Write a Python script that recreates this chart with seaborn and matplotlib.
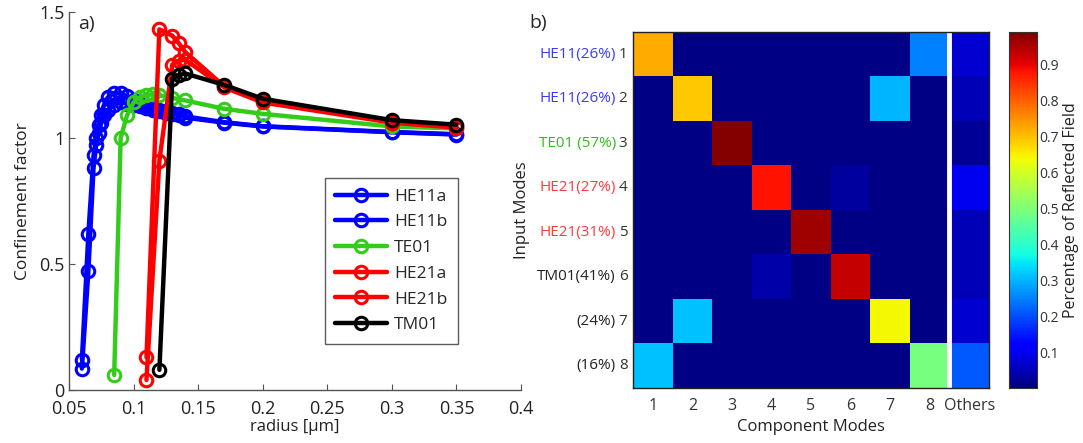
import numpy as np
import pandas as pd
import matplotlib
matplotlib.use("Agg")
import matplotlib.pyplot as plt
import matplotlib.transforms as mtransforms
import seaborn as sns

# ---------------- data: panel a ----------------
he11_x = [0.06, 0.065, 0.069, 0.071, 0.073, 0.075, 0.077, 0.08, 0.085, 0.09, 0.095, 0.10,
          0.105, 0.11, 0.115, 0.12, 0.125, 0.13, 0.135, 0.14, 0.17, 0.20, 0.30, 0.35]
he11a_y = [0.12, 0.62, 0.93, 1.00, 1.05, 1.09, 1.13, 1.16, 1.178, 1.176, 1.165, 1.15,
           1.135, 1.125, 1.115, 1.11, 1.105, 1.10, 1.093, 1.085, 1.062, 1.046, 1.023, 1.014]
he11b_y = [0.085, 0.47, 0.88, 0.97, 1.02, 1.06, 1.09, 1.11, 1.13, 1.14, 1.135, 1.13,
           1.125, 1.12, 1.11, 1.105, 1.10, 1.095, 1.09, 1.08, 1.06, 1.045, 1.022, 1.013]
te01_x = [0.085, 0.09, 0.095, 0.10, 0.105, 0.11, 0.115, 0.12, 0.13, 0.14, 0.17, 0.20, 0.30, 0.35]
te01_y = [0.06, 1.0, 1.09, 1.14, 1.16, 1.17, 1.172, 1.168, 1.158, 1.148, 1.115, 1.095, 1.045, 1.037]
he21_x = [0.11, 0.12, 0.13, 0.135, 0.14, 0.17, 0.20, 0.30, 0.35]
he21a_y = [0.13, 1.43, 1.405, 1.375, 1.34, 1.205, 1.145, 1.065, 1.045]
he21b_y = [0.04, 0.91, 1.29, 1.305, 1.31, 1.20, 1.14, 1.06, 1.04]
tm01_x = [0.12, 0.13, 0.135, 0.14, 0.17, 0.20, 0.30, 0.35]
tm01_y = [0.08, 1.235, 1.248, 1.255, 1.21, 1.155, 1.07, 1.052]

series_names = ["HE11a", "HE11b", "TE01", "HE21a", "HE21b", "TM01"]

# ---------------- data: panel b ----------------
component_labels = ["1", "2", "3", "4", "5", "6", "7", "8", "Others"]
input_numbers = ["1", "2", "3", "4", "5", "6", "7", "8"]
input_names = ["HE11(26%)", "HE11(26%)", "TE01 (57%)", "HE21(27%)", "HE21(31%)",
               "TM01(41%)", "(24%)", "(16%)"]
row1 = [0.72, 0.005, 0.005, 0.005, 0.005, 0.005, 0.005, 0.25, 0.07]
row2 = [0.005, 0.69, 0.005, 0.005, 0.005, 0.005, 0.30, 0.005, 0.05]
row3 = [0.005, 0.005, 0.985, 0.005, 0.005, 0.005, 0.005, 0.005, 0.02]
row4 = [0.005, 0.005, 0.005, 0.88, 0.005, 0.03, 0.005, 0.005, 0.10]
row5 = [0.005, 0.005, 0.005, 0.005, 0.96, 0.005, 0.005, 0.005, 0.05]
row6 = [0.005, 0.005, 0.005, 0.035, 0.005, 0.93, 0.005, 0.005, 0.05]
row7 = [0.005, 0.31, 0.005, 0.005, 0.005, 0.005, 0.64, 0.005, 0.07]
row8 = [0.31, 0.005, 0.005, 0.005, 0.005, 0.005, 0.005, 0.49, 0.21]

# ---------------- styling ----------------
sns.set_style("white")
plt.rcParams['font.family'] = ['Open Sans', 'DejaVu Sans']
AX_COL = "#555555"
TXT = "#222222"

fig = plt.figure(figsize=(10.83, 4.43), dpi=100)

# ---------- panel a ----------
ax = fig.add_axes([0.0637, 0.1196, 0.4174, 0.854])
blue = (0.0, 0.0, 1.0)
green = (0.2, 0.8, 0.1)
red = (1.0, 0.0, 0.0)
black = (0.0, 0.0, 0.0)
plot_data = [
    (he11_x, he11a_y, blue), (he11_x, he11b_y, blue), (te01_x, te01_y, green),
    (he21_x, he21a_y, red), (he21_x, he21b_y, red), (tm01_x, tm01_y, black),
]
for name, (xs, ys, col) in zip(series_names, plot_data):
    df = pd.DataFrame({"r": xs, "c": ys})
    sns.lineplot(data=df, x="r", y="c", ax=ax, color=col, lw=3.2, sort=False,
                 estimator=None, marker="o", markersize=9, markerfacecolor="none",
                 markeredgecolor=col, markeredgewidth=2.2, label=name)

ax.set_xlim(0.05, 0.4)
ax.set_ylim(0, 1.5)
ax.set_xticks([0.05, 0.1, 0.15, 0.2, 0.25, 0.3, 0.35, 0.4])
ax.set_xticklabels(["0.05", "0.1", "0.15", "0.2", "0.25", "0.3", "0.35", "0.4"])
ax.set_yticks([0, 0.5, 1, 1.5])
ax.set_yticklabels(["0", "0.5", "1", "1.5"])
for s in ["top", "right"]:
    ax.spines[s].set_visible(False)
for s in ["left", "bottom"]:
    ax.spines[s].set_color(AX_COL)
    ax.spines[s].set_linewidth(1.0)
ax.tick_params(direction="in", length=4, color=AX_COL, labelsize=13, labelcolor=TXT,
               left=True, bottom=True)
ax.tick_params(axis="x", pad=7)
ax.tick_params(axis="y", pad=3)
ax.set_xlabel("radius [μm]", fontsize=12, color=TXT, labelpad=1)
ax.set_ylabel("Confinement factor", fontsize=12.5, color=TXT, labelpad=6)
ax.text(0.02, 0.99, "a)", transform=ax.transAxes, fontsize=14, va="top", ha="left")
leg = ax.legend(loc="upper left", bbox_to_anchor=(0.566, 0.56), fontsize=12.5,
                frameon=True, fancybox=False, handlelength=3.0, labelspacing=0.55,
                borderpad=0.6, handletextpad=0.4, borderaxespad=0)
leg.get_frame().set_edgecolor("#333333")
leg.get_frame().set_linewidth(1.0)

# ---------- panel b ----------
hax = fig.add_axes([0.5845, 0.1242, 0.3287, 0.8036])
cax = fig.add_axes([0.9317, 0.1242, 0.0259, 0.8036])
mat = pd.DataFrame([row1, row2, row3, row4, row5, row6, row7, row8],
                   index=input_numbers, columns=component_labels)
sns.heatmap(mat, ax=hax, cmap="jet", vmin=0, vmax=0.99, cbar_ax=cax, linewidths=0)
hax.axvline(8, color="white", lw=3.5)
for s in hax.spines.values():
    s.set_visible(True)
    s.set_color("#222222")
    s.set_linewidth(1.0)
hax.set_yticklabels(input_numbers, rotation=0, fontsize=11, color="#333333")
hax.set_xticklabels(component_labels, rotation=0, fontsize=11.5, color="#333333")
hax.tick_params(axis="y", length=0, pad=4)
hax.tick_params(axis="x", length=0, pad=7)
hax.set_xlabel("Component Modes", fontsize=12, color=TXT, labelpad=4)
hax.set_ylabel("Input Modes", fontsize=12, color=TXT, labelpad=64)

name_colors = ["#3a3aff", "#3a3aff", "#33bb22", "#ff3a3a", "#ff3a3a", "#222222",
               "#222222", "#222222"]
trans = mtransforms.blended_transform_factory(hax.transAxes, hax.transData)
for i, (nm, colr) in enumerate(zip(input_names, name_colors)):
    hax.text(-0.048, i + 0.5, nm, transform=trans, ha="right", va="center",
             fontsize=11, color=colr)
hax.text(-0.29, 1.05, "b)", transform=hax.transAxes, fontsize=14, va="top", ha="left")

cax.set_yticks([0.1, 0.2, 0.3, 0.4, 0.5, 0.6, 0.7, 0.8, 0.9])
cax.set_yticklabels(["0.1", "0.2", "0.3", "0.4", "0.5", "0.6", "0.7", "0.8", "0.9"])
cax.tick_params(axis="y", direction="in", length=3, left=True, right=True,
                labelsize=10, labelcolor="#333333", color="#222222", pad=1.5)
for s in cax.spines.values():
    s.set_visible(True)
    s.set_color("#333333")
cax.set_ylabel("Percentage of Reflected Field", fontsize=11.5, color=TXT, labelpad=3)

fig.savefig("out.png", dpi=100)
